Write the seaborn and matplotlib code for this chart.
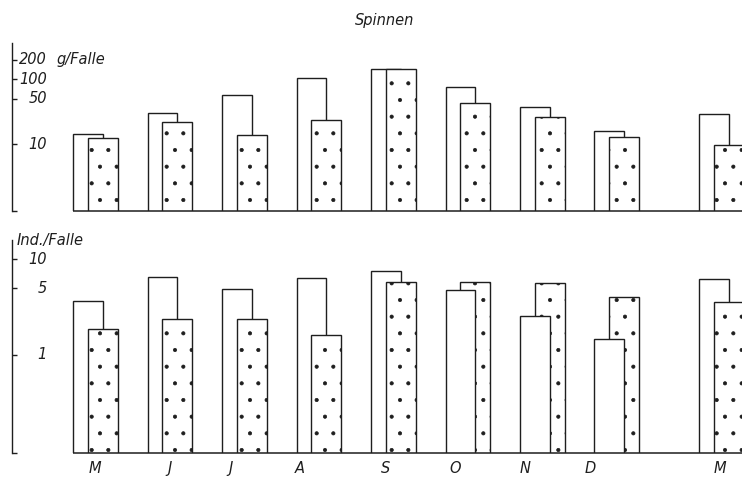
import matplotlib
matplotlib.use('Agg')
import matplotlib.pyplot as plt
import seaborn as sns
from matplotlib import transforms
from matplotlib.ticker import NullLocator

# months of the sampling year, last May shown after a gap
months = ['M', 'J', 'J', 'A', 'S', 'O', 'N', 'D', 'M']
month_pos = [0, 1, 2, 3, 4, 5, 6, 7, 8.4]
label_pos = [0, 1.0, 1.81, 2.75, 3.89, 4.83, 5.77, 6.64, 8.39]

# g / Falle (top panel)
weight_open = [14.4, 30, 57, 103, 142, 75, 37, 15.8, 29.6]
weight_dotted = [12.4, 22.3, 13.9, 23.7, 142, 43.6, 26, 12.8, 9.8]

# Ind. / Falle (bottom panel)
ind_open = [3.7, 6.5, 4.86, 6.4, 7.6, 4.74, 2.57, 1.46, 6.27]
ind_dotted = [1.87, 2.36, 2.38, 1.62, 5.83, 5.75, 5.65, 4.0, 3.55]

weight_ticks = [200, 100, 50, 10]
ind_ticks = [10, 5, 1]

sns.set_style('white')
plt.rcParams['font.family'] = ['DejaVu Sans']
plt.rcParams['hatch.linewidth'] = 0.5

INK = '#1e1e1e'
W, H = 742, 479
X_LEFT = -1.119
X_RIGHT = 8.68


def draw_panel(ax, open_vals, dot_vals, ylim, ticks):
    ax.set_yscale('log')
    sns.barplot(x=[p - 0.1 for p in month_pos], y=open_vals, native_scale=True,
                width=0.4, color='white', saturation=1, edgecolor=INK,
                linewidth=1.0, errorbar=None, ax=ax)
    sns.barplot(x=[p + 0.1 for p in month_pos], y=dot_vals, native_scale=True,
                width=0.4, color='white', saturation=1, edgecolor=INK,
                linewidth=1.0, hatch='.', errorbar=None, ax=ax)
    n = len(month_pos)
    bars = ax.patches
    for i in range(n):
        # the shorter bar of each pair sits in front
        if dot_vals[i] <= open_vals[i]:
            bars[i].set_zorder(2)
            bars[n + i].set_zorder(3)
        else:
            bars[i].set_zorder(3)
            bars[n + i].set_zorder(2)

    ax.set_xlim(X_LEFT, X_RIGHT)
    ax.set_ylim(*ylim)
    ax.hlines(ylim[0], month_pos[0] - 0.3, X_RIGHT, color=INK, lw=1.1,
              clip_on=False, zorder=4)
    for side in ['top', 'right', 'bottom']:
        ax.spines[side].set_visible(False)
    ax.spines['left'].set_color(INK)
    ax.spines['left'].set_linewidth(1.0)

    ax.yaxis.set_minor_locator(NullLocator())
    ax.set_yticks(ticks + [ylim[0]])
    ax.set_yticklabels([''] * (len(ticks) + 1))
    ax.tick_params(axis='y', direction='in', length=3.5, width=1.0, color=INK, left=True)
    trans = transforms.blended_transform_factory(ax.transAxes, ax.transData)
    for t in ticks:
        ax.text((47 - 12) / (W - 12), t, str(t), transform=trans, ha='right',
                va='center', fontsize=10.5, style='italic', color=INK)
    ax.set_xlabel('')
    ax.set_ylabel('')
    return trans


fig = plt.figure(figsize=(W / 100, H / 100), dpi=100)
ax1 = fig.add_axes([12 / W, 1 - 211 / H, 1 - 12 / W, (211 - 43) / H])
ax2 = fig.add_axes([12 / W, 1 - 452.7 / H, 1 - 12 / W, (452.7 - 240) / H])

trans1 = draw_panel(ax1, weight_open, weight_dotted, (0.94, 361), weight_ticks)
ax1.text((57 - 12) / (W - 12), 200, 'g/Falle', transform=trans1, ha='left',
         va='center', fontsize=10.5, style='italic', color=INK)
ax1.set_xticks([])

draw_panel(ax2, ind_open, ind_dotted, (0.095, 15.9), ind_ticks)
ax2.set_xticks(label_pos)
ax2.set_xticklabels(months, style='italic', fontsize=10.5, color=INK)
ax2.tick_params(axis='x', length=0, pad=6)

fig.text(17 / W, 1 - 240 / H, 'Ind./Falle', ha='left', va='center',
         fontsize=10.5, style='italic', color=INK)
fig.text(385 / W, 1 - 20 / H, 'Spinnen', ha='center', va='center',
         fontsize=10.5, style='italic', color=INK)

fig.savefig('out.png', dpi=100)
